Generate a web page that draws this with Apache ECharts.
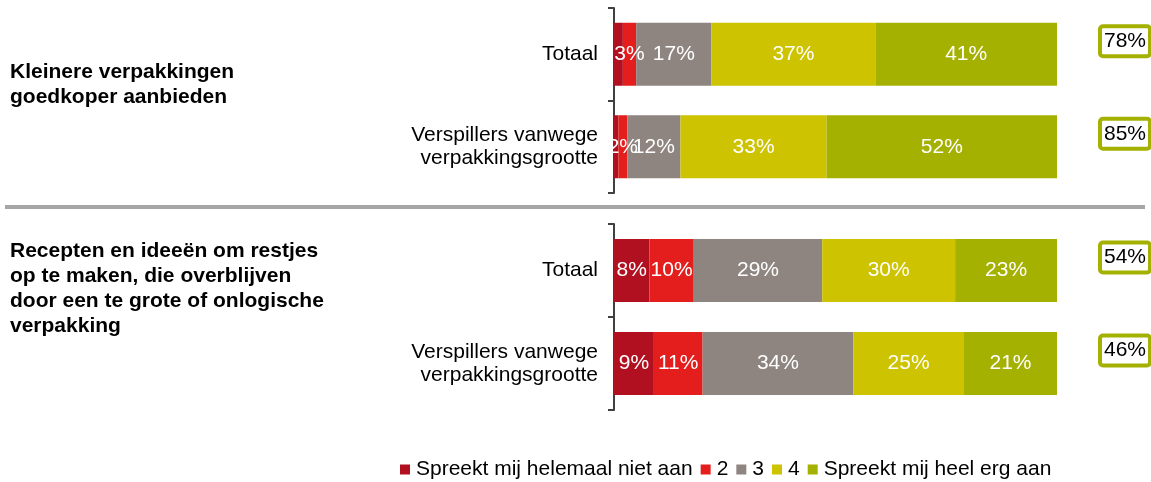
<!DOCTYPE html>
<html>
<head>
<meta charset="utf-8">
<script src="https://cdn.jsdelivr.net/npm/echarts@6/dist/echarts.min.js"></script>
<style>
  html, body { margin: 0; padding: 0; background: #ffffff; }
  #chart { width: 1151px; height: 482px; }
</style>
</head>
<body>
<div id="chart"></div>
<script>
// Rows shown in each block
const categories = ['Totaal', 'Verspillers vanwege\nverpakkingsgrootte'];

// Answer scale (legend order)
const seriesNames = ['Spreekt mij helemaal niet aan', '2', '3', '4', 'Spreekt mij heel erg aan'];
const seriesColors = ['#b11020', '#e31e1c', '#8f8580', '#cdc300', '#a5b100'];

// Block 1: Kleinere verpakkingen goedkoper aanbieden (%)
const groupATitle = 'Kleinere verpakkingen\ngoedkoper aanbieden';
const groupA1 = [2, 1];
const groupA2 = [3, 2];
const groupA3 = [17, 12];
const groupA4 = [37, 33];
const groupA5 = [41, 52];
const groupATopTwo = [78, 85];

// Block 2: Recepten en ideeën om restjes op te maken (%)
const groupBTitle = 'Recepten en ideeën om restjes\nop te maken, die overblijven\ndoor een te grote of onlogische\nverpakking';
const groupB1 = [8, 9];
const groupB2 = [10, 11];
const groupB3 = [29, 34];
const groupB4 = [30, 25];
const groupB5 = [23, 21];
const groupBTopTwo = [54, 46];

const FONT = "'Liberation Sans', Arial, sans-serif";
const FS = 21;

const chart = echarts.init(document.getElementById('chart'), null, { renderer: 'canvas' });

function yAxisFor(gridIndex) {
  return {
    type: 'category',
    gridIndex: gridIndex,
    data: categories,
    inverse: true,
    axisLine: { show: true, lineStyle: { color: '#404040', width: 2 } },
    axisTick: { show: true, length: 6, lineStyle: { color: '#404040', width: 2 } },
    axisLabel: {
      margin: 16, color: '#000', fontFamily: FONT, fontSize: FS,
      lineHeight: 23, align: 'right'
    }
  };
}

function xAxisFor(gridIndex) {
  return { type: 'value', gridIndex: gridIndex, min: 0, max: 100, show: false };
}

// Stacked answer segments, labelled inside with their percentage
function plainSeries(values, axisIndex, stackName) {
  return values.map(function (vals, i) {
    const minLabel = i === 0 ? 5 : 1;
    return {
      name: seriesNames[i],
      type: 'bar',
      stack: stackName,
      xAxisIndex: axisIndex,
      yAxisIndex: axisIndex,
      barWidth: 63,
      itemStyle: { color: seriesColors[i] },
      label: {
        show: true,
        position: 'inside',
        color: '#ffffff',
        fontFamily: FONT,
        fontSize: FS,
        formatter: function (p) { return p.value >= minLabel ? p.value + '%' : ''; }
      },
      data: vals
    };
  });
}

// Top-two box drawn by a zero-width companion bar at the end of every row
function boxSeries(topTwo, axisIndex, stackName) {
  return {
    name: 'box-' + stackName,
    type: 'bar',
    stack: stackName,
    xAxisIndex: axisIndex,
    yAxisIndex: axisIndex,
    barWidth: 63,
    silent: true,
    itemStyle: { color: 'rgba(0,0,0,0)' },
    label: {
      show: true,
      position: 'right',
      distance: 45,
      offset: [0, -13],
      color: '#000',
      fontFamily: FONT,
      fontSize: FS,
      lineHeight: 24,
      padding: [2, 2, 0, 2],
      borderColor: '#a5b100',
      borderWidth: 4,
      borderRadius: 1,
      backgroundColor: '#fff',
      formatter: function (p) { return topTwo[p.dataIndex] + '%'; }
    },
    data: topTwo.map(function () { return 0; })
  };
}

const series = []
  .concat(plainSeries([groupA1, groupA2, groupA3, groupA4, groupA5], 0, 'a'))
  .concat([boxSeries(groupATopTwo, 0, 'a')])
  .concat(plainSeries([groupB1, groupB2, groupB3, groupB4, groupB5], 1, 'b'))
  .concat([boxSeries(groupBTopTwo, 1, 'b')]);

chart.setOption({
  animation: false,
  backgroundColor: '#ffffff',
  title: [
    {
      text: groupATitle, left: 10, top: 60, padding: 0,
      textStyle: { fontFamily: FONT, fontSize: FS, fontWeight: 'bold', color: '#000', lineHeight: 25 }
    },
    {
      text: groupBTitle, left: 10, top: 239, padding: 0,
      textStyle: { fontFamily: FONT, fontSize: FS, fontWeight: 'bold', color: '#000', lineHeight: 25 }
    }
  ],
  legend: {
    data: seriesNames,
    left: 400,
    top: 459,
    padding: 0,
    itemWidth: 10,
    itemHeight: 10,
    itemGap: 8,
    icon: 'rect',
    selectedMode: false,
    textStyle: { fontFamily: FONT, fontSize: FS, color: '#000', padding: [0, 0, 0, 1] }
  },
  grid: [
    { left: 614, right: 94, top: 8, height: 185 },
    { left: 614, right: 94, top: 224, height: 186 }
  ],
  xAxis: [xAxisFor(0), xAxisFor(1)],
  yAxis: [yAxisFor(0), yAxisFor(1)],
  graphic: [
    {
      type: 'line',
      shape: { x1: 5, y1: 207, x2: 1145, y2: 207 },
      style: { stroke: '#a6a6a6', lineWidth: 4 }
    }
  ],
  series: series
});
</script>
</body>
</html>
